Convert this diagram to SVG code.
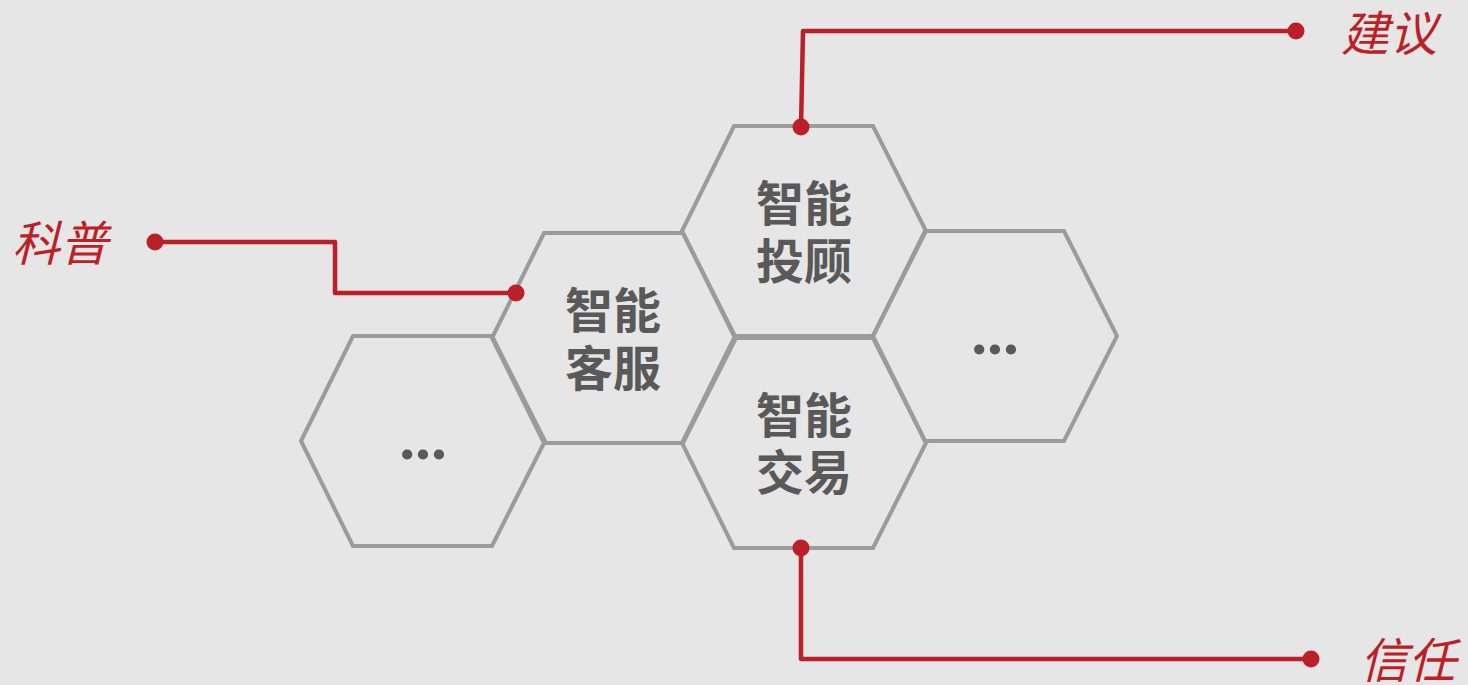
<svg xmlns="http://www.w3.org/2000/svg" width="1468" height="685" viewBox="0 0 1468 685">
  <style>
    .hex { fill: none; stroke: #9b9b9b; stroke-width: 4; stroke-linejoin: miter; }
    .lbl { font-family: "Noto Sans CJK SC", "Noto Sans", sans-serif; font-weight: bold; font-size: 48px; fill: #595959; text-anchor: middle; }
    .dots { font-family: Lato, "Liberation Sans", sans-serif; font-weight: bold; font-size: 67px; fill: #595959; text-anchor: middle; }
    .kw { font-family: "Noto Sans CJK SC", "Noto Sans", sans-serif; font-style: italic; font-size: 48px; fill: #bb1f28; }
    .conn { fill: none; stroke: #bb1f28; stroke-width: 4.5; stroke-linejoin: round; stroke-linecap: round; }
    .end { fill: #bb1f28; }
  </style>
  <rect x="0" y="0" width="1468" height="685" fill="#e6e6e6"/>

  <g id="hex-more-left">
    <polygon class="hex" points="301,441 353,336 492,336 545,441 492,546 353,546"/>
    <text class="dots" x="423" y="459">...</text>
  </g>
  <g id="hex-kefu">
    <polygon class="hex" points="492,338 544,233 683,233 736,338 683,443 544,443"/>
    <text class="lbl" x="613" y="328">智能<tspan x="613" dy="58">客服</tspan></text>
  </g>
  <g id="hex-tougu">
    <polygon class="hex" points="682,231 734,126 873,126 926,231 873,336 734,336"/>
    <text class="lbl" x="804" y="221">智能<tspan x="804" dy="58">投顾</tspan></text>
  </g>
  <g id="hex-jiaoyi">
    <polygon class="hex" points="682,443 734,338 873,338 926,443 873,548 734,548"/>
    <text class="lbl" x="804" y="433">智能<tspan x="804" dy="57">交易</tspan></text>
  </g>
  <g id="hex-more-right">
    <polygon class="hex" points="873,336 925,231 1064,231 1117,336 1064,441 925,441"/>
    <text class="dots" x="995" y="354">...</text>
  </g>

  <g id="connectors">
    <polyline class="conn" points="155,242 335,242 335,293 516,293"/>
    <circle class="end" cx="155" cy="242" r="8.5"/>
    <circle class="end" cx="516" cy="293" r="8.5"/>

    <polyline class="conn" points="801,127 803,31 1296,31"/>
    <circle class="end" cx="801" cy="127" r="8.5"/>
    <circle class="end" cx="1296" cy="31" r="8.5"/>

    <polyline class="conn" points="801,548 801,659 1311,659"/>
    <circle class="end" cx="801" cy="548" r="8.5"/>
    <circle class="end" cx="1311" cy="659" r="8.5"/>
  </g>

  <g id="label-kepu"><text class="kw" x="12" y="261">科普</text></g>
  <g id="label-jianyi"><text class="kw" x="1341" y="51">建议</text></g>
  <g id="label-xinren"><text class="kw" x="1360" y="678">信任</text></g>
</svg>
